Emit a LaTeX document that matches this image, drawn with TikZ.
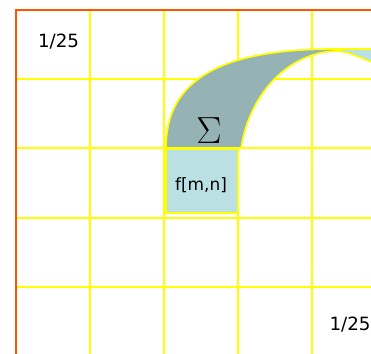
\RequirePackage{fix-cm}
\documentclass[tikz,border=0pt]{standalone}
\usepackage{fontspec}
\setmainfont{DejaVu Sans}
\definecolor{gridyellow}{RGB}{255,255,0}
\definecolor{frameorange}{RGB}{255,85,0}
\definecolor{bandgray}{RGB}{149,179,181}
\definecolor{bandblue}{RGB}{186,224,227}
\tikzset{
  gridline/.style={draw=gridyellow,line width=1.7pt},
  framepen/.style={draw=frameorange,line width=1.8pt},
  bandpen/.style={draw=gridyellow,line width=1.3pt},
  cellbox/.style={draw=gridyellow,fill=bandblue,line width=1.6pt,inner sep=0pt},
  ratio/.style={font=\fontsize{14}{17}\selectfont}
}

\begin{document}
\begin{tikzpicture}
\useasboundingbox (0.000,0.000) rectangle (10.000,-9.515);
\clip (0.000,0.000) rectangle (10.000,-9.515);
% yellow grid
\draw[gridline] (2.426,-0.270) -- (2.426,-9.700);
\draw[gridline] (4.420,-0.270) -- (4.420,-9.700);
\draw[gridline] (6.415,-0.270) -- (6.415,-9.700);
\draw[gridline] (8.410,-0.270) -- (8.410,-9.700);
\draw[gridline] (0.431,-2.129) -- (10.500,-2.129);
\draw[gridline] (0.431,-3.989) -- (10.500,-3.989);
\draw[gridline] (0.431,-5.876) -- (10.500,-5.876);
\draw[gridline] (0.431,-7.736) -- (10.500,-7.736);
% outer frame
\draw[framepen] (0.431,-0.270) rectangle (10.404,-9.596);
% cell with its value
\node[cellbox,anchor=north west,minimum width=1.941cm,minimum height=1.725cm] (fmn) at (4.447,-3.989) {};
\node[font=\fontsize{13}{15}\selectfont] (fmnlabel) at (5.418,-5.000) {f[m,n]};
% bands
\draw[bandpen,fill=bandblue] (9.030,-1.321) -- (10.300,-1.321) -- (10.300,-1.800) .. controls (9.750,-1.560) and (9.400,-1.400) .. (9.111,-1.375) -- cycle;
\draw[bandpen,fill=bandgray] (4.474,-3.989) .. controls (4.474,-2.156) and (5.930,-1.321) .. (9.030,-1.321) -- (9.111,-1.375) arc[start angle=90,end angle=169.3,x radius=2.660,y radius=3.208] -- cycle;
\node[font=\fontsize{29}{34}\selectfont] (sumsign) at (5.633,-3.531) {$\Sigma$};
% ratios
\node[ratio] (topratio) at (1.577,-1.119) {1/25};
\node[ratio] (botratio) at (9.434,-8.747) {1/25};
\end{tikzpicture}
\end{document}
